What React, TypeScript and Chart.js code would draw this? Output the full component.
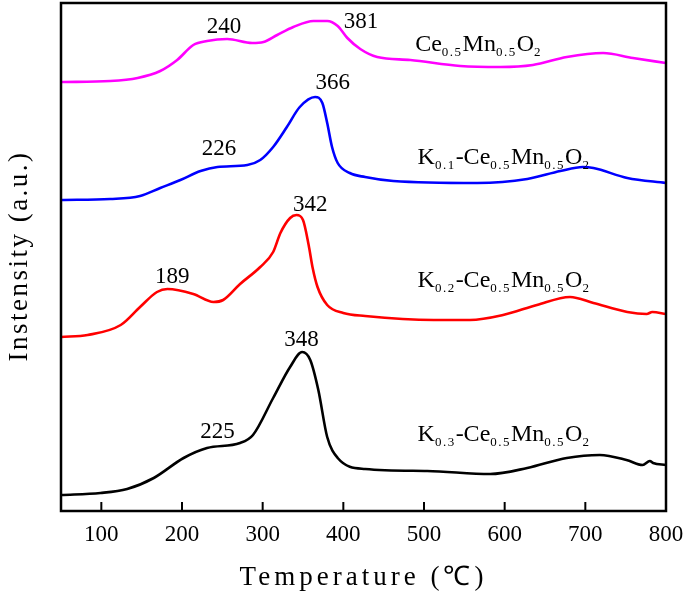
import React, { useEffect, useRef } from 'react';
import { Chart, registerables } from 'chart.js';

Chart.register(...registerables);

// ---- Data (temperature in °C, intensity in arbitrary offset units) ----
const ceMnT = [50, 111, 145, 173, 194, 214, 231, 256, 287, 301, 318, 338, 363, 380, 393, 405, 421, 442, 483, 545, 595, 635, 677, 722, 759, 800];
const ceMnI = [429, 430, 433, 440, 451, 466, 470, 472, 468, 469, 476, 484, 490, 490, 485, 473, 462, 454, 451, 445, 444, 446, 454, 458, 453, 448];

const k01T = [50, 111, 148, 173, 198, 223, 244, 281, 297, 313, 330, 346, 365, 374, 380, 386, 393, 408, 427, 462, 566, 628, 669, 697, 710, 752, 800];
const k01I = [311, 312, 315, 323, 331, 340, 344, 346, 351, 364, 384, 404, 414, 408, 388, 364, 348, 338, 334, 330, 328, 332, 340, 344, 343, 333, 328];

const k02T = [50, 83, 124, 148, 169, 182, 214, 239, 251, 272, 297, 313, 322, 334, 342, 350, 357, 362, 368, 380, 400, 427, 512, 557, 598, 640, 681, 710, 752, 776, 783, 800];
const k02I = [174, 176, 186, 204, 219, 222, 217, 209, 211, 227, 244, 259, 278, 293, 296, 291, 266, 243, 224, 206, 198, 195, 191, 191, 196, 206, 214, 208, 199, 197, 199, 197];

const k03T = [50, 99, 132, 165, 202, 231, 272, 288, 313, 334, 349, 359, 369, 380, 393, 427, 504, 582, 628, 677, 718, 751, 771, 780, 784, 800];
const k03I = [16, 18, 22, 33, 53, 63, 68, 76, 113, 144, 159, 151, 121, 74, 53, 42, 40, 37, 43, 53, 56, 51, 46, 50, 48, 46];

const seriesColors = ['#ff00ff', '#0000ff', '#ff0000', '#000000'];
const seriesNames = ['Ce_{0.5}Mn_{0.5}O_{2}', 'K_{0.1}-Ce_{0.5}Mn_{0.5}O_{2}', 'K_{0.2}-Ce_{0.5}Mn_{0.5}O_{2}', 'K_{0.3}-Ce_{0.5}Mn_{0.5}O_{2}'];
const seriesLabelT = [489, 492, 492, 492];
const seriesLabelI = [466, 353, 230, 76];

const peakLabels = ['240', '381', '366', '226', '342', '189', '348', '225'];
const peakLabelT = [252, 422, 387, 246, 359, 188, 348, 244];
const peakLabelI = [484, 489, 428, 362, 306, 234, 171, 79];

const xTicks = [100, 200, 300, 400, 500, 600, 700, 800];
const xTitle = 'Temperature (\u2103)';
const yTitle = 'Instensity (a.u.)';

const SERIF = '"Liberation Serif", "Times New Roman", serif';

function toPoints(t: number[], v: number[]) {
  return t.map((x, i) => ({ x, y: v[i] }));
}

function drawFormula(ctx: CanvasRenderingContext2D, text: string, x: number, y: number) {
  const re = /_\{([^}]*)\}|([^_]+)/g;
  let m: RegExpExecArray | null;
  let cx = x;
  while ((m = re.exec(text)) !== null) {
    if (m[1] !== undefined) {
      ctx.font = '13px ' + SERIF;
      (ctx as any).letterSpacing = '1.5px';
      ctx.fillText(m[1], cx, y + 8);
      cx += ctx.measureText(m[1]).width;
    } else {
      ctx.font = '24px ' + SERIF;
      (ctx as any).letterSpacing = '0px';
      ctx.fillText(m[2], cx, y);
      cx += ctx.measureText(m[2]).width;
    }
  }
  (ctx as any).letterSpacing = '0px';
}

const decorPlugin = {
  id: 'decor',
  afterDraw(chart: any) {
    const { ctx, chartArea: a, scales } = chart;
    const x = scales.x;
    const y = scales.y;
    ctx.save();
    ctx.strokeStyle = '#000';
    ctx.lineWidth = 2.5;
    ctx.strokeRect(a.left, a.top, a.right - a.left, a.bottom - a.top);
    ctx.lineWidth = 2;
    xTicks.forEach((v) => {
      const px = x.getPixelForValue(v);
      ctx.beginPath();
      ctx.moveTo(px, a.bottom);
      ctx.lineTo(px, a.bottom - 9);
      ctx.stroke();
    });
    ctx.fillStyle = '#000';
    ctx.textBaseline = 'middle';
    ctx.textAlign = 'center';
    ctx.font = '23px ' + SERIF;
    peakLabels.forEach((t, i) => {
      ctx.fillText(t, x.getPixelForValue(peakLabelT[i]), y.getPixelForValue(peakLabelI[i]));
    });
    ctx.textAlign = 'left';
    seriesNames.forEach((n, i) => {
      drawFormula(ctx, n, x.getPixelForValue(seriesLabelT[i]), y.getPixelForValue(seriesLabelI[i]));
    });
    // axis titles
    ctx.textAlign = 'center';
    ctx.font = '27px ' + SERIF;
    (ctx as any).letterSpacing = '4px';
    ctx.fillText(xTitle, (a.left + a.right) / 2, 578);
    (ctx as any).letterSpacing = '2.5px';
    ctx.translate(20, 256);
    ctx.rotate(-Math.PI / 2);
    ctx.fillText(yTitle, 0, 0);
    ctx.restore();
  },
};

export default function App() {
  const ref = useRef<HTMLCanvasElement | null>(null);
  useEffect(() => {
    if (!ref.current) return;
    const sets = [
      [ceMnT, ceMnI],
      [k01T, k01I],
      [k02T, k02I],
      [k03T, k03I],
    ];
    const chart = new Chart(ref.current, {
      type: 'line',
      data: {
        datasets: sets.map((s, i) => ({
          label: seriesNames[i],
          data: toPoints(s[0], s[1]),
          borderColor: seriesColors[i],
          backgroundColor: seriesColors[i],
          borderWidth: 2.6,
          pointRadius: 0,
          tension: 0.4,
          cubicInterpolationMode: 'monotone' as const,
          fill: false,
        })),
      },
      options: {
        responsive: false,
        animation: false,
        layout: { padding: { top: 3, right: 19, left: 0, bottom: 0 } },
        plugins: { legend: { display: false }, tooltip: { enabled: false } },
        scales: {
          x: {
            type: 'linear',
            min: 50,
            max: 800,
            afterBuildTicks: (scale: any) => {
              scale.ticks = xTicks.map((v) => ({ value: v }));
            },
            afterFit: (scale: any) => {
              scale.height = 87;
              scale.paddingLeft = 0;
              scale.paddingRight = 0;
            },
            grid: { display: false, drawTicks: false },
            border: { display: false },
            ticks: {
              color: '#000',
              padding: 10,
              maxRotation: 0,
              font: { family: SERIF, size: 23 },
            },
          },
          y: {
            type: 'linear',
            min: 0,
            max: 508,
            afterFit: (scale: any) => {
              scale.width = 61;
              scale.paddingTop = 0;
              scale.paddingBottom = 0;
            },
            grid: { display: false, drawTicks: false },
            border: { display: false },
            ticks: { display: false },
          },
        },
      },
      plugins: [decorPlugin],
    } as any);
    return () => chart.destroy();
  }, []);
  return (
    <div style={{ position: 'fixed', left: 0, top: 0, width: 685, height: 598, background: '#fff' }}>
      <canvas ref={ref} width={685} height={598} style={{ display: 'block' }} />
    </div>
  );
}
